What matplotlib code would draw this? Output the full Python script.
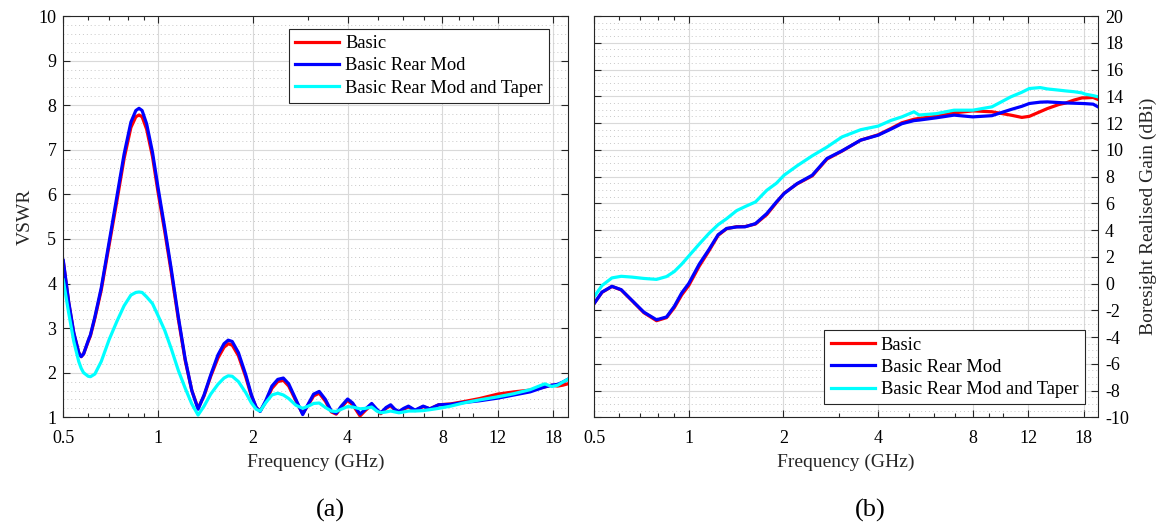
import matplotlib
matplotlib.use("Agg")
import matplotlib.pyplot as plt
from matplotlib.ticker import FixedLocator, FixedFormatter, MultipleLocator, NullFormatter

plt.rcParams['font.family'] = ['Liberation Serif', 'DejaVu Serif']
plt.rcParams['axes.unicode_minus'] = False

# ---- (a) VSWR versus frequency ----
freq_a = [0.50, 0.52, 0.54, 0.56, 0.57, 0.58, 0.60, 0.61, 0.63, 0.66, 0.70, 0.74,
          0.78, 0.82, 0.85, 0.87, 0.89, 0.92, 0.96, 1.00, 1.05, 1.10, 1.16, 1.22,
          1.28, 1.34, 1.40, 1.47, 1.55, 1.62, 1.67, 1.72, 1.80, 1.90, 1.98, 2.05,
          2.11, 2.20, 2.30, 2.40, 2.50, 2.60, 2.74, 2.88, 3.00, 3.12, 3.25, 3.40,
          3.55, 3.68, 3.82, 4.00, 4.15, 4.38, 4.55, 4.77, 4.95, 5.10, 5.30, 5.48,
          5.65, 5.82, 6.03, 6.24, 6.55, 6.95, 7.30, 7.78, 8.50, 9.33, 10.5, 12.0,
          13.5, 15.2, 16.9, 17.8, 18.6, 19.3, 20.0]
vswr_basic = [4.50, 3.58, 2.88, 2.45, 2.36, 2.42, 2.70, 2.83, 3.22, 3.85, 4.88, 5.85,
              6.80, 7.50, 7.74, 7.78, 7.74, 7.46, 6.85, 6.05, 5.17, 4.28, 3.20, 2.27,
              1.60, 1.20, 1.48, 1.92, 2.33, 2.57, 2.65, 2.62, 2.38, 1.90, 1.47, 1.22,
              1.14, 1.35, 1.65, 1.80, 1.83, 1.70, 1.37, 1.08, 1.28, 1.48, 1.54, 1.36,
              1.12, 1.07, 1.22, 1.38, 1.28, 1.03, 1.15, 1.28, 1.16, 1.08, 1.20, 1.26,
              1.16, 1.11, 1.18, 1.23, 1.15, 1.24, 1.19, 1.28, 1.30, 1.35, 1.42, 1.52,
              1.57, 1.61, 1.68, 1.72, 1.70, 1.72, 1.75]
vswr_rear = [4.52, 3.60, 2.90, 2.45, 2.36, 2.42, 2.72, 2.85, 3.25, 3.90, 4.95, 5.95,
             6.90, 7.62, 7.88, 7.93, 7.88, 7.58, 6.95, 6.15, 5.25, 4.35, 3.25, 2.30,
             1.60, 1.18, 1.50, 1.95, 2.40, 2.65, 2.73, 2.70, 2.45, 1.95, 1.50, 1.22,
             1.13, 1.38, 1.70, 1.85, 1.88, 1.75, 1.40, 1.06, 1.30, 1.52, 1.58, 1.40,
             1.14, 1.09, 1.25, 1.41, 1.32, 1.07, 1.18, 1.31, 1.18, 1.10, 1.22, 1.28,
             1.18, 1.13, 1.20, 1.25, 1.16, 1.25, 1.19, 1.28, 1.29, 1.33, 1.37, 1.43,
             1.50, 1.57, 1.68, 1.72, 1.74, 1.79, 1.85]
vswr_taper = [4.08, 3.35, 2.70, 2.25, 2.10, 2.00, 1.92, 1.91, 1.97, 2.25, 2.75, 3.15,
              3.50, 3.74, 3.80, 3.81, 3.80, 3.70, 3.55, 3.28, 2.95, 2.55, 2.05, 1.65,
              1.30, 1.05, 1.25, 1.52, 1.74, 1.88, 1.93, 1.92, 1.80, 1.55, 1.32, 1.18,
              1.14, 1.33, 1.50, 1.54, 1.50, 1.42, 1.27, 1.20, 1.25, 1.31, 1.32, 1.22,
              1.14, 1.13, 1.18, 1.24, 1.23, 1.19, 1.20, 1.23, 1.14, 1.10, 1.12, 1.14,
              1.12, 1.10, 1.12, 1.14, 1.14, 1.15, 1.17, 1.20, 1.25, 1.32, 1.39, 1.46,
              1.53, 1.62, 1.75, 1.69, 1.72, 1.79, 1.85]

# ---- (b) boresight realised gain versus frequency ----
freq_b = [0.50, 0.53, 0.57, 0.61, 0.66, 0.72, 0.79, 0.85, 0.90, 0.95, 1.00, 1.08,
          1.16, 1.24, 1.32, 1.42, 1.51, 1.63, 1.77, 1.90, 2.01, 2.21, 2.47, 2.75,
          3.07, 3.52, 4.00, 4.40, 4.76, 5.20, 5.40, 6.12, 6.97, 8.00, 9.20, 10.57,
          11.45, 12.10, 13.10, 13.80, 15.00, 15.80, 16.80, 17.80, 18.20, 19.30, 20.00]
gain_basic = [-1.50, -0.66, -0.22, -0.48, -1.28, -2.18, -2.78, -2.55, -1.80, -0.85, -0.15, 1.30,
              2.45, 3.60, 4.10, 4.25, 4.26, 4.45, 5.15, 6.05, 6.75, 7.45, 8.05, 9.30,
              9.90, 10.72, 11.12, 11.60, 12.02, 12.28, 12.35, 12.50, 12.76, 12.91, 12.84, 12.59,
              12.42, 12.50, 12.85, 13.08, 13.38, 13.50, 13.72, 13.88, 13.88, 13.91, 13.76]
gain_rear = [-1.51, -0.64, -0.21, -0.46, -1.26, -2.14, -2.71, -2.50, -1.70, -0.70, 0.00, 1.45,
             2.55, 3.65, 4.12, 4.23, 4.24, 4.48, 5.23, 6.10, 6.73, 7.47, 8.10, 9.35,
             9.92, 10.72, 11.09, 11.55, 11.95, 12.18, 12.22, 12.39, 12.59, 12.46, 12.55, 13.01,
             13.25, 13.46, 13.56, 13.58, 13.53, 13.50, 13.48, 13.46, 13.45, 13.41, 13.21]
gain_taper = [-1.00, -0.15, 0.42, 0.54, 0.48, 0.38, 0.31, 0.52, 0.90, 1.45, 2.05, 2.95,
              3.75, 4.40, 4.85, 5.45, 5.75, 6.10, 6.97, 7.50, 8.10, 8.80, 9.55, 10.20,
              10.96, 11.50, 11.77, 12.20, 12.46, 12.84, 12.60, 12.70, 12.96, 12.96, 13.21, 13.96,
              14.30, 14.58, 14.65, 14.55, 14.46, 14.40, 14.34, 14.25, 14.16, 14.05, 13.96]

labels = ["Basic", "Basic Rear Mod", "Basic Rear Mod and Taper"]
colors = ["#ff0000", "#0000ff", "#00ffff"]

x_major = [0.5, 1, 2, 4, 8, 12, 18]
x_major_labels = ["0.5", "1", "2", "4", "8", "12", "18"]
x_minor = [0.6, 0.7, 0.8, 0.9, 3, 5, 6, 7, 9, 10]

AX_COL = "#262626"
FS_TICK = 13
FS_LABEL = 14

fig = plt.figure(figsize=(11.65, 5.27), dpi=100)
ax_a = fig.add_axes([0.0543, 0.2082, 0.4330, 0.7614])
ax_b = fig.add_axes([0.5099, 0.2082, 0.4326, 0.7614])


def style_axes(ax, ymin, ymax, ystep, yminor):
    ax.set_xscale("log")
    ax.set_xlim(0.5, 20)
    ax.set_ylim(ymin, ymax)
    ax.xaxis.set_major_locator(FixedLocator(x_major))
    ax.xaxis.set_major_formatter(FixedFormatter(x_major_labels))
    ax.xaxis.set_minor_locator(FixedLocator(x_minor))
    ax.xaxis.set_minor_formatter(NullFormatter())
    ax.yaxis.set_major_locator(MultipleLocator(ystep))
    ax.yaxis.set_minor_locator(MultipleLocator(yminor))
    ax.grid(which="major", color="#d9d9d9", lw=0.8, ls="-")
    ax.grid(which="minor", axis="y", color="#c8c8c8", lw=0.7, ls=(0, (1, 3)))
    ax.grid(which="minor", axis="x", visible=False)
    ax.set_axisbelow(True)
    ax.tick_params(which="both", direction="in", top=True, bottom=True,
                   left=True, right=True, colors=AX_COL, labelcolor="black",
                   labelsize=FS_TICK, width=0.8)
    ax.tick_params(which="major", length=5)
    ax.tick_params(which="minor", length=3)
    ax.tick_params(axis="y", which="minor", length=0)
    ax.tick_params(axis="x", which="both", pad=9)
    ax.tick_params(axis="y", which="both", pad=5)
    for s in ax.spines.values():
        s.set_color(AX_COL)
        s.set_linewidth(0.8)
    ax.set_xlabel("Frequency (GHz)", fontsize=FS_LABEL, color="#262626", labelpad=5)


def add_legend(ax, loc, anchor):
    leg = ax.legend(loc=loc, bbox_to_anchor=anchor, borderaxespad=0,
                    fontsize=13.3, frameon=True, fancybox=False, shadow=False,
                    edgecolor="#262626", framealpha=1.0, handlelength=2.4,
                    handletextpad=0.3, labelspacing=0.28, borderpad=0.35)
    leg.get_frame().set_linewidth(0.8)
    return leg


# panel (a)
for vals, lab, col in zip([vswr_basic, vswr_rear, vswr_taper], labels, colors):
    ax_a.plot(freq_a, vals, color=col, lw=2.3, label=lab, solid_joinstyle="round")
style_axes(ax_a, 1, 10, 1, 0.2)
ax_a.set_ylabel("VSWR", fontsize=FS_LABEL, color="#262626")
ax_a.yaxis.set_label_coords(-0.058, 0.5)
add_legend(ax_a, "upper right", (0.963, 0.968))

# panel (b)
for vals, lab, col in zip([gain_basic, gain_rear, gain_taper], labels, colors):
    ax_b.plot(freq_b, vals, color=col, lw=2.3, label=lab, solid_joinstyle="round")
style_axes(ax_b, -10, 20, 2, 0.5)
ax_b.yaxis.tick_right()
ax_b.tick_params(which="both", left=True, right=True, labelleft=False, labelright=True)
ax_b.yaxis.set_label_position("right")
ax_b.set_ylabel("Boresight Realised Gain (dBi)", fontsize=FS_LABEL, color="#262626")
ax_b.yaxis.set_label_coords(1.083, 0.5)
add_legend(ax_b, "lower right", (0.974, 0.032))

fig.text(330 / 1165, 1 - 510 / 527, "(a)", fontsize=19, ha="center", va="center")
fig.text(870 / 1165, 1 - 510 / 527, "(b)", fontsize=19, ha="center", va="center")

fig.savefig("out.png", dpi=100)
